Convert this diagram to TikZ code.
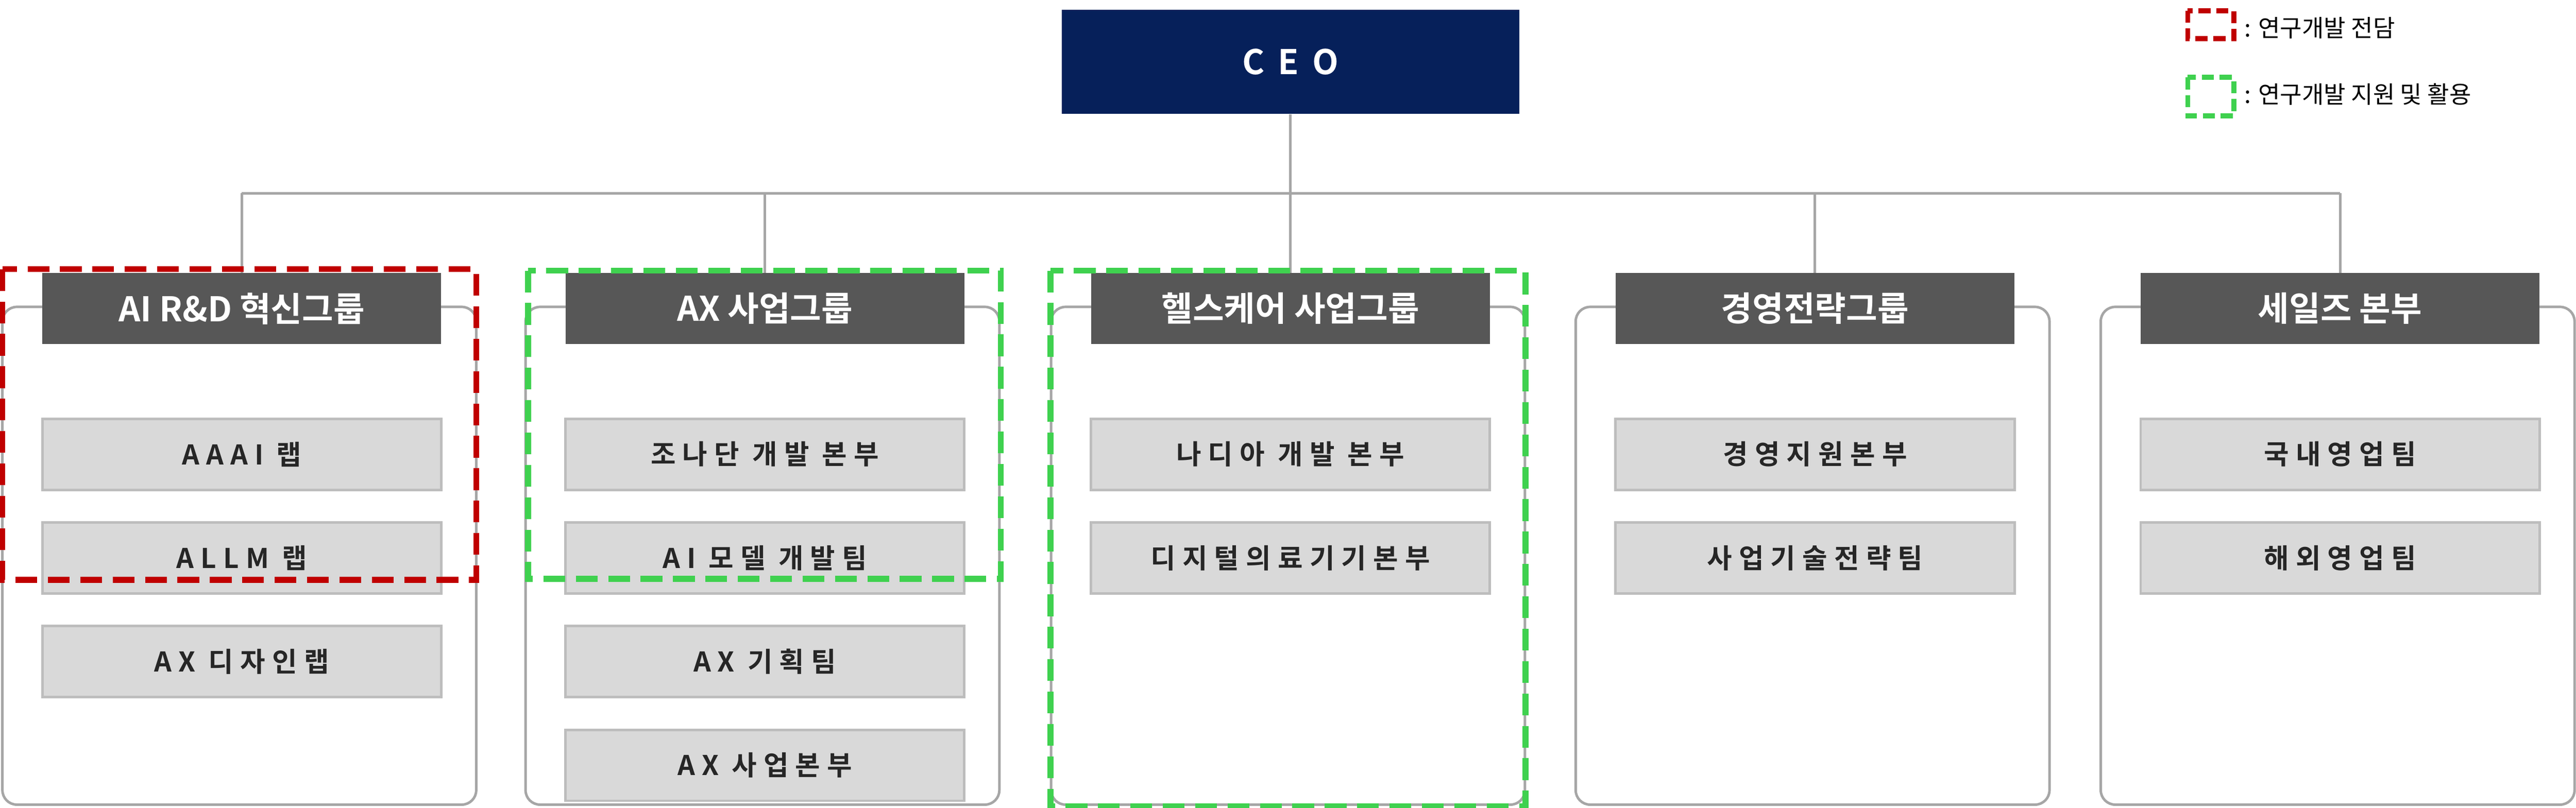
\documentclass[tikz,border=0pt]{standalone}
\usepackage{fontspec}
\setmainfont{Noto Sans CJK KR}[BoldFont={Noto Sans CJK KR Bold}]
\usetikzlibrary{calc,positioning}
\definecolor{navy}{HTML}{06205A}
\definecolor{hdr}{HTML}{575757}
\definecolor{subfill}{HTML}{D9D9D9}
\definecolor{subline}{HTML}{BDBDBD}
\definecolor{redline}{HTML}{C00000}
\definecolor{greenline}{HTML}{3FD14F}
\tikzset{
  header/.style={fill=hdr,minimum width=8.25cm,minimum height=1.47cm,inner sep=0pt,
    text=white,font=\bfseries\fontsize{20}{24}\selectfont},
  unit/.style={fill=subfill,draw=subline,line width=1.5pt,minimum width=8.25cm,minimum height=1.47cm,
    inner sep=0pt,text=black!85,font=\bfseries\fontsize{16}{20}\selectfont\addfontfeatures{LetterSpace=25}},
  group/.style={draw=black!35,line width=1.5pt,rounded corners=0.3cm},
  link/.style={draw=black!35,line width=1.5pt},
  rnd/.style={draw=redline,line width=3.5pt,dash pattern=on 0.45cm off 0.22cm},
  grn/.style={draw=greenline,line width=3.5pt,dash pattern=on 0.45cm off 0.22cm}
}
\begin{document}
\begin{tikzpicture}
  \useasboundingbox (0,0) rectangle (53.28,16.71);
  \node[fill=navy,minimum width=9.46cm,minimum height=2.16cm,text=white,
    font=\bfseries\fontsize{20}{24}\selectfont\addfontfeatures{LetterSpace=40}] (ceo) at (26.69,15.43) {CEO};
  \coordinate (bus) at (26.69,12.71);
  \draw[link] (ceo.south) -- (bus);
  \draw[link] (5.0,12.71) -- (48.40,12.71);
  % groups
  \foreach \name/\cx/\title in {rnd/5.0/AI R\&D 혁신그룹, ax/15.82/AX 사업그룹, hc/26.69/헬스케어 사업그룹,
      mg/37.54/경영전략그룹, sl/48.40/세일즈 본부}{
    \draw[group] (\cx-4.95,16.71-6.35) rectangle (\cx+4.85,0.06);
    \draw[link] (\cx,12.71) -- (\cx,16.71-5.65);
    \node[header] (\name) at (\cx,16.71-6.385) {\title};
  }
  % units
  \foreach \grp/\i/\txt in {rnd/1/AAAI 랩, rnd/2/ALLM 랩, rnd/3/AX 디자인랩,
      ax/1/조나단 개발 본부, ax/2/AI 모델 개발팀, ax/3/AX 기획팀, ax/4/AX 사업본부,
      hc/1/나디아 개발 본부, hc/2/디지털의료기기본부,
      mg/1/경영지원본부, mg/2/사업기술전략팀,
      sl/1/국내영업팀, sl/2/해외영업팀}{
    \node[unit] (\grp-\i) at ($(\grp)+(0,-0.87-2.145*\i)$) {\txt};
  }
  % highlight frames
  \draw[rnd] (0.05,16.71-5.57) rectangle (9.85,16.71-12.0);
  \draw[grn] (10.92,16.71-5.6) rectangle (20.70,16.71-11.98);
  \draw[grn] (21.73,16.71-5.6) rectangle (31.55,0.03);
  % legend
  \draw[rnd,line width=3pt,dash pattern=on 0.25cm off 0.12cm] (45.25,16.71-0.22) rectangle (46.2,16.71-0.8);
  \node[anchor=west,font=\fontsize{14}{16}\selectfont] (lg1) at (46.3,16.71-0.58) {: 연구개발 전담};
  \draw[grn,line width=3pt,dash pattern=on 0.25cm off 0.12cm] (45.25,16.71-1.6) rectangle (46.2,16.71-2.4);
  \node[anchor=west,font=\fontsize{14}{16}\selectfont] (lg2) at (46.3,16.71-1.95) {: 연구개발 지원 및 활용};
\end{tikzpicture}
\end{document}
